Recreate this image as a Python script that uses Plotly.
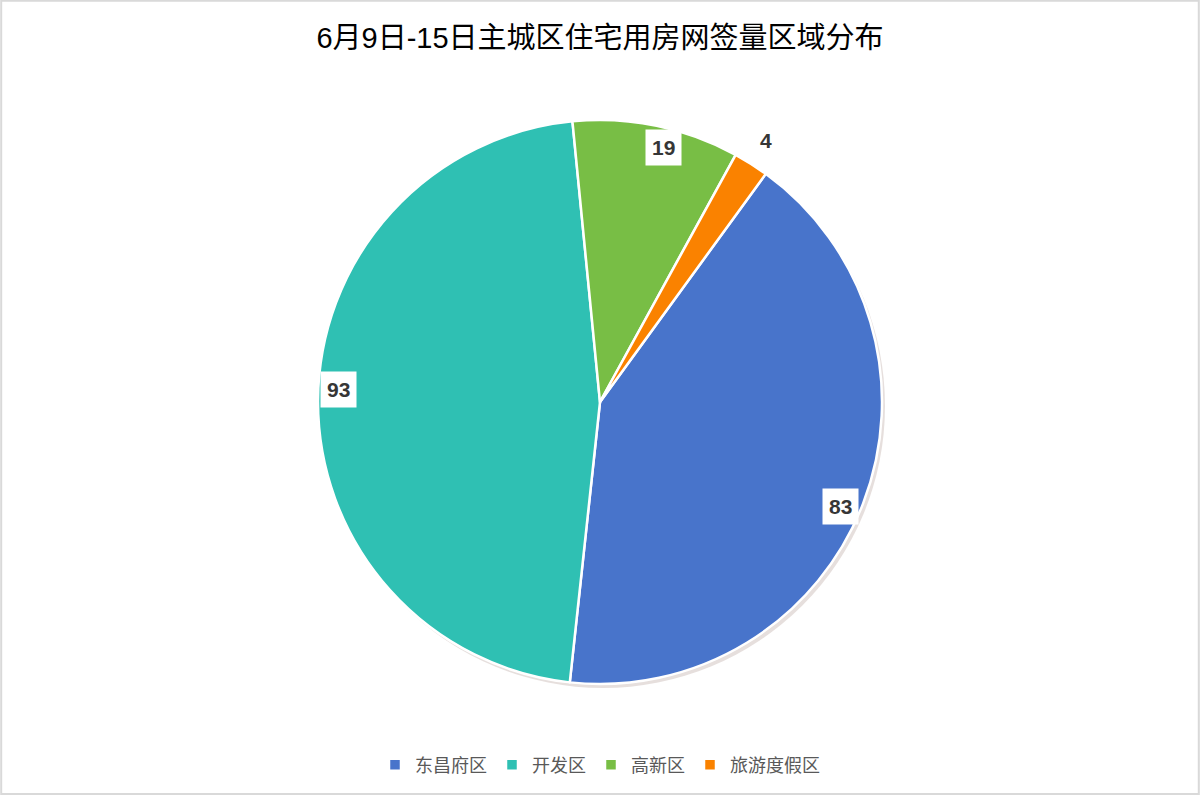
import math
import plotly.graph_objects as go

categories = ["东昌府区", "开发区", "高新区", "旅游度假区"]
values = [83, 93, 19, 4]
colors = ["#4874CB", "#2FC0B3", "#78BE45", "#FA8200"]
title_text = "6月9日-15日主城区住宅用房网签量区域分布"

W, H = 1200, 809
CX, CY, R = 600, 402, 282   # pie centre / radius in px
ROT = 36

fig = go.Figure()
fig.add_trace(go.Pie(
    labels=categories, values=values, sort=False, direction="clockwise",
    rotation=ROT, textinfo="none", hoverinfo="label+value",
    marker=dict(colors=colors, line=dict(color="white", width=2.5)),
    domain=dict(x=[(CX - R) / W, (CX + R) / W],
                y=[(H - CY - R) / H, (H - CY + R) / H]),
    showlegend=True,
))

# data labels computed from slice mid-angles
total = sum(values)
cum = 0
annotations = []
for v in values:
    mid = ROT + (cum + v / 2) / total * 360
    cum += v
    frac = v / total
    if frac < 0.05:
        r, ang = R * 1.1, mid
    else:
        r, ang = R * 0.93, mid + 2.5
    px = CX + r * math.sin(math.radians(ang))
    py = CY - r * math.cos(math.radians(ang))
    annotations.append(dict(
        x=px / W, y=(H - py) / H, xref="paper", yref="paper",
        text=f"<b>{v}</b>", showarrow=False,
        font=dict(size=21, color="#363636", family="Liberation Sans, Arial"),
        bgcolor="white", borderpad=6, xanchor="center", yanchor="middle",
    ))

fig.update_layout(
    width=W, height=H,
    margin=dict(l=0, r=0, t=0, b=0),
    paper_bgcolor="white", plot_bgcolor="white",
    title=dict(text=title_text, x=0.5, xanchor="center", y=(H - 38) / H, yanchor="middle",
               font=dict(size=29, color="#000000",
                         family="Liberation Sans, Noto Sans CJK SC")),
    legend=dict(orientation="h", x=0.5, xanchor="center", y=(H - 765) / H, yanchor="middle",
                font=dict(size=18, color="#595959", family="Noto Sans CJK SC"),
                itemwidth=30, tracegroupgap=0),
    annotations=annotations,
    shapes=[
        dict(type="rect", xref="paper", yref="paper", x0=0.001, x1=0.999,
             y0=(H - 794) / H, y1=0.999, line=dict(color="#d9d9d9", width=2),
             layer="below"),
        dict(type="circle", xref="paper", yref="paper",
             x0=(CX - R + 3) / W, x1=(CX + R + 3) / W,
             y0=(H - CY - R - 4) / H, y1=(H - CY + R - 4) / H,
             fillcolor="rgba(140,110,100,0.22)", line=dict(width=0), layer="below"),
    ],
)

fig.write_html("out.html", config={"displayModeBar": False},
               post_script="document.body.style.margin='0';")
